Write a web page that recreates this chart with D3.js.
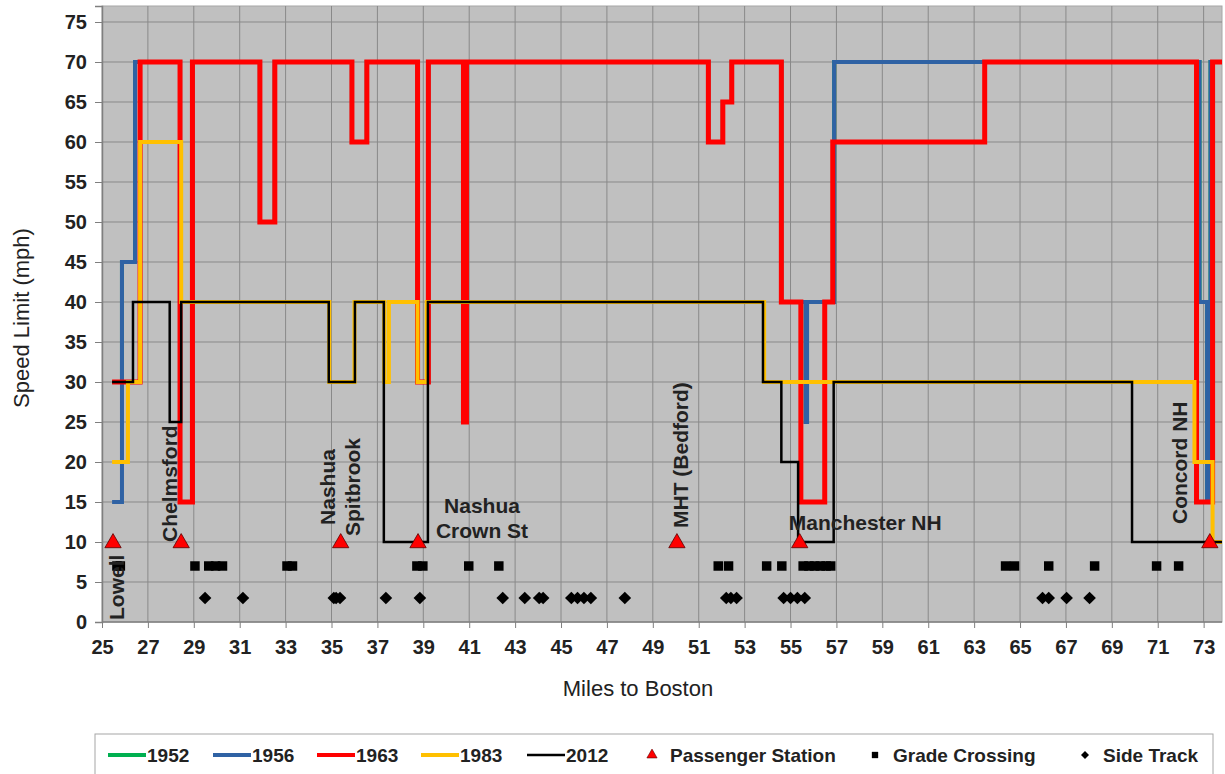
<!DOCTYPE html>
<html>
<head>
<meta charset="utf-8">
<script src="https://cdn.jsdelivr.net/npm/d3@7"></script>
<style>
  body { margin: 0; background: #fff; }
  svg text { font-family: "Liberation Sans", Arial, sans-serif; }
</style>
</head>
<body>
<svg id="chart"></svg>
<script>
// speed profiles: speed[i] applies from miles[i] up to miles[i+1]
const miles1952 = [25.44, 25.87, 26.44, 28.40, 28.94, 31.88, 32.53, 35.89, 36.54, 38.75, 39.22, 40.75, 40.88, 51.42, 52.05, 52.44, 54.60, 55.66, 55.72, 56.90, 72.82, 73.15, 73.30, 73.8]
const speed1952 = [30, 45, 70, 15, 70, 50, 70, 60, 70, 30, 70, 25, 70, 60, 65, 70, 40, 25, 40, 70, 40, 15, 70, 70]

const miles1956 = [25.44, 25.87, 26.44, 28.40, 28.94, 31.88, 32.53, 35.89, 36.54, 38.75, 39.22, 40.75, 40.88, 51.42, 52.05, 52.44, 54.60, 55.66, 55.72, 56.90, 72.82, 73.15, 73.30, 73.8]
const speed1956 = [15, 45, 70, 15, 70, 50, 70, 60, 70, 30, 70, 25, 70, 60, 65, 70, 40, 25, 40, 70, 40, 15, 70, 70]

const miles1963 = [25.44, 26.66, 28.40, 28.94, 31.88, 32.53, 35.89, 36.54, 38.75, 39.22, 40.75, 40.88, 51.42, 52.05, 52.44, 54.60, 55.45, 56.49, 56.84, 63.46, 72.69, 73.39, 73.8]
const speed1963 = [30, 70, 15, 70, 50, 70, 60, 70, 30, 70, 25, 70, 60, 65, 70, 40, 15, 40, 60, 70, 15, 70, 70]

const miles1983 = [25.44, 26.13, 26.66, 28.45, 34.90, 36.00, 37.30, 37.50, 38.75, 39.15, 53.85, 72.60, 73.39, 73.8]
const speed1983 = [20, 30, 60, 40, 30, 40, 30, 40, 30, 40, 30, 20, 10, 10]

const miles2012 = [25.44, 26.35, 27.95, 28.45, 34.88, 36.02, 37.28, 39.20, 53.80, 54.60, 55.33, 56.88, 69.88, 73.8]
const speed2012 = [30, 40, 25, 40, 30, 40, 10, 40, 30, 20, 10, 30, 10, 10]

const stationNames = ['Lowell', 'Chelmsford', 'Nashua Spitbrook', 'Nashua Crown St', 'MHT (Bedford)', 'Manchester NH', 'Concord NH']
const stationMiles = [25.48, 28.45, 35.40, 38.77, 50.05, 55.40, 73.27]

const crossingMiles = [25.65, 25.80, 29.05, 29.65, 29.95, 30.25, 33.06, 33.30, 38.72, 38.98, 40.98, 42.29,
  51.85, 52.30, 53.96, 54.62, 55.55, 55.80, 56.05, 56.30, 56.55, 56.75, 64.37, 64.76, 66.25, 68.25, 70.95, 71.91]

const sideTrackMiles = [29.49, 31.14, 35.10, 35.20, 35.37, 37.37, 38.85, 42.46, 43.42, 44.05, 44.22,
  45.45, 45.72, 46.00, 46.30, 47.78, 52.20, 52.40, 52.65, 54.70, 55.00, 55.30, 55.62, 65.98, 66.25, 67.03, 68.03]

const xTickValues = [25, 27, 29, 31, 33, 35, 37, 39, 41, 43, 45, 47, 49, 51, 53, 55, 57, 59, 61, 63, 65, 67, 69, 71, 73]
const yTickValues = [0, 5, 10, 15, 20, 25, 30, 35, 40, 45, 50, 55, 60, 65, 70, 75]

const STATION_SPEED = 10
const CROSSING_SPEED = 7
const SIDETRACK_SPEED = 3

const WIDTH = 1225
const HEIGHT = 774
const LEFT = 102, RIGHT = 1222, TOP = 6, BOTTOM = 622

const svg = d3.select('#chart').attr('width', WIDTH).attr('height', HEIGHT)

const x = d3.scaleLinear().domain([25, 73.8]).range([LEFT, RIGHT])
const y = d3.scaleLinear().domain([0, 77]).range([BOTTOM, TOP])

// plot background
svg.append('rect')
  .attr('x', LEFT).attr('y', TOP)
  .attr('width', RIGHT - LEFT).attr('height', BOTTOM - TOP)
  .attr('fill', '#c0c0c0')
  .attr('stroke', '#a6a6a6')

// grid
const grid = svg.append('g')
grid.selectAll('.hgrid').data(yTickValues.filter(d => d > 0))
  .enter().append('line')
  .attr('x1', LEFT).attr('x2', RIGHT)
  .attr('y1', d => y(d)).attr('y2', d => y(d))
  .attr('stroke', '#898989').attr('stroke-width', 1)
grid.selectAll('.vgrid').data(xTickValues.filter(d => d > 25))
  .enter().append('line')
  .attr('x1', d => x(d)).attr('x2', d => x(d))
  .attr('y1', TOP).attr('y2', BOTTOM)
  .attr('stroke', '#898989').attr('stroke-width', 1)

// axes
const yAxis = svg.append('g')
  .attr('transform', `translate(${LEFT},0)`)
  .call(d3.axisLeft(y).tickValues(yTickValues).tickSize(7).tickPadding(8))
const xAxis = svg.append('g')
  .attr('transform', `translate(0,${BOTTOM})`)
  .call(d3.axisBottom(x).tickValues(xTickValues).tickSize(6).tickPadding(12))
for (const ax of [xAxis, yAxis]) {
  ax.select('.domain').attr('stroke', '#7f7f7f').attr('stroke-width', 1.5)
  ax.selectAll('.tick line').attr('stroke', '#7f7f7f')
  ax.selectAll('.tick text')
    .attr('fill', '#222')
    .style('font-size', '20px')
    .style('font-weight', 'bold')
    .style('font-family', '"Liberation Sans", Arial, sans-serif')
}
xAxis.select('.domain').attr('d', `M${LEFT},0H${RIGHT}`)

// axis titles
svg.append('text')
  .attr('x', 638).attr('y', 696)
  .attr('text-anchor', 'middle')
  .style('font-size', '22px')
  .attr('fill', '#222')
  .text('Miles to Boston')
svg.append('text')
  .attr('transform', 'translate(29,318) rotate(-90)')
  .attr('text-anchor', 'middle')
  .style('font-size', '22px')
  .attr('fill', '#222')
  .text('Speed Limit (mph)')

// speed lines
const series = [
  { name: '1952', miles: miles1952, speed: speed1952, color: '#00b050', width: 4 },
  { name: '1956', miles: miles1956, speed: speed1956, color: '#2f62a4', width: 4 },
  { name: '1963', miles: miles1963, speed: speed1963, color: '#ff0000', width: 5 },
  { name: '1983', miles: miles1983, speed: speed1983, color: '#ffc000', width: 4 },
  { name: '2012', miles: miles2012, speed: speed2012, color: '#000000', width: 2.5 }
]

const line = d3.line()
  .x(d => x(d[0]))
  .y(d => y(d[1]))
  .curve(d3.curveStepAfter)

svg.append('g').selectAll('path')
  .data(series)
  .enter().append('path')
  .attr('d', s => line(s.miles.map((m, i) => [m, s.speed[i]])))
  .attr('fill', 'none')
  .attr('stroke', s => s.color)
  .attr('stroke-width', s => s.width)
  .attr('stroke-linejoin', 'miter')

// markers
const marks = svg.append('g')
marks.selectAll('.crossing').data(crossingMiles)
  .enter().append('path')
  .attr('d', d3.symbol(d3.symbolSquare, 90))
  .attr('transform', d => `translate(${x(d)},${y(CROSSING_SPEED)})`)
  .attr('fill', '#000')

marks.selectAll('.side').data(sideTrackMiles)
  .enter().append('path')
  .attr('d', d3.symbol(d3.symbolSquare, 80))
  .attr('transform', d => `translate(${x(d)},${y(SIDETRACK_SPEED)}) rotate(45)`)
  .attr('fill', '#000')

marks.selectAll('.station').data(stationMiles)
  .enter().append('path')
  .attr('d', d3.symbol(d3.symbolTriangle, 115))
  .attr('transform', d => `translate(${x(d)},${y(STATION_SPEED) + 1})`)
  .attr('fill', '#ff0000')
  .attr('stroke', '#5a0000')
  .attr('stroke-width', 0.8)

// station labels
const labelLayout = {
  'Lowell':           { dx: 11,  rotate: true,  anchor: 'start',  lines: ['Lowell'], baseY: 620 },
  'Chelmsford':       { dx: -4,  rotate: true,  anchor: 'start',  lines: ['Chelmsford'], baseY: 542 },
  'Nashua Spitbrook': { dx: -6,  rotate: true,  anchor: 'middle', lines: ['Nashua', 'Spitbrook'], baseY: 487 },
  'Nashua Crown St':  { dx: 64,  rotate: false, anchor: 'middle', lines: ['Nashua', 'Crown St'], baseY: 513 },
  'MHT (Bedford)':    { dx: 11,  rotate: true,  anchor: 'start',  lines: ['MHT (Bedford)'], baseY: 528 },
  'Manchester NH':    { dx: -11, rotate: false, anchor: 'start',  lines: ['Manchester NH'], baseY: 530 },
  'Concord NH':       { dx: -23, rotate: true,  anchor: 'start',  lines: ['Concord NH'], baseY: 524 }
}
const labels = svg.append('g')
stationNames.forEach((name, i) => {
  const L = labelLayout[name]
  const px = x(stationMiles[i]) + L.dx
  const t = labels.append('text')
    .attr('text-anchor', L.anchor)
    .attr('fill', '#222')
    .style('font-size', '21px')
    .style('font-weight', 'bold')
  if (L.rotate) {
    t.attr('transform', `translate(${px},${L.baseY}) rotate(-90)`)
    L.lines.forEach((ln, j) => {
      t.append('tspan').attr('x', 0).attr('y', j * 25).text(ln)
    })
  } else {
    L.lines.forEach((ln, j) => {
      t.append('tspan').attr('x', px).attr('y', L.baseY + j * 25).text(ln)
    })
  }
})

// legend
const legend = svg.append('g')
legend.append('rect')
  .attr('x', 95).attr('y', 734)
  .attr('width', 1118).attr('height', 44)
  .attr('fill', '#fff')
  .attr('stroke', '#a6a6a6')

const LY = 755
const lineItems = [
  { s: series[0], x0: 108 },
  { s: series[1], x0: 213 },
  { s: series[2], x0: 317 },
  { s: series[3], x0: 421 },
  { s: series[4], x0: 527 }
]
lineItems.forEach(it => {
  legend.append('line')
    .attr('x1', it.x0).attr('x2', it.x0 + 38)
    .attr('y1', LY).attr('y2', LY)
    .attr('stroke', it.s.color)
    .attr('stroke-width', it.s.name === '2012' ? 2.5 : 4)
  legend.append('text')
    .attr('x', it.x0 + 39).attr('y', LY + 7)
    .style('font-size', '19px').style('font-weight', 'bold')
    .attr('fill', '#222')
    .text(it.s.name)
})

const symItems = [
  { label: 'Passenger Station', cx: 652, sym: d3.symbolTriangle, size: 45, fill: '#ff0000', rot: 0 },
  { label: 'Grade Crossing', cx: 875, sym: d3.symbolSquare, size: 40, fill: '#000', rot: 0 },
  { label: 'Side Track', cx: 1085, sym: d3.symbolSquare, size: 32, fill: '#000', rot: 45 }
]
symItems.forEach(it => {
  legend.append('path')
    .attr('d', d3.symbol(it.sym, it.size))
    .attr('transform', `translate(${it.cx},${LY}) rotate(${it.rot})`)
    .attr('fill', it.fill)
    .attr('stroke', it.rot === 0 && it.fill === '#ff0000' ? '#5a0000' : 'none')
    .attr('stroke-width', 0.6)
  legend.append('text')
    .attr('x', it.cx + 18).attr('y', LY + 7)
    .style('font-size', '19px').style('font-weight', 'bold')
    .attr('fill', '#222')
    .text(it.label)
})
</script>
</body>
</html>
